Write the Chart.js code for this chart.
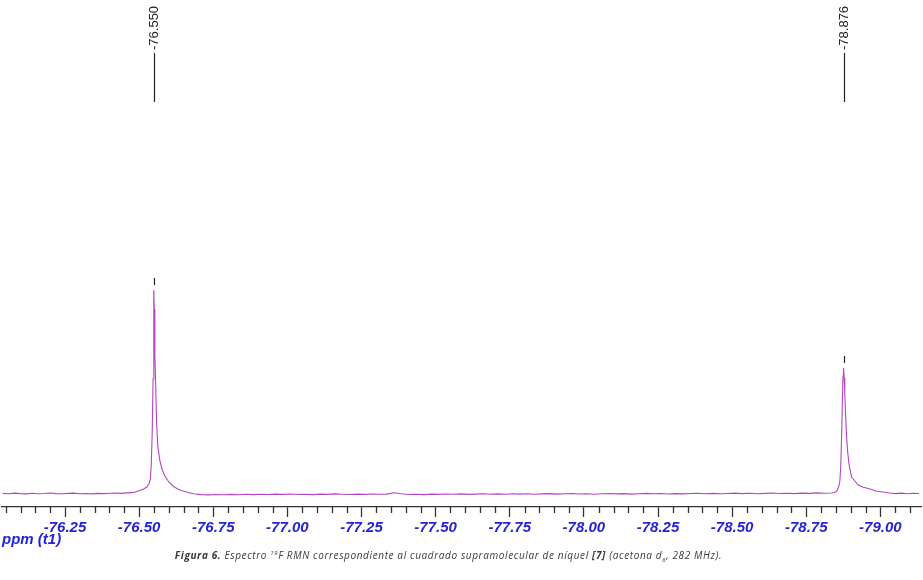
<!DOCTYPE html>
<html>
<head>
<meta charset="utf-8">
<script src="https://cdn.jsdelivr.net/npm/chart.js@4.4.0/dist/chart.umd.min.js"></script>
<style>
html,body{margin:0;padding:0;background:#fff;}
#wrap{position:relative;width:923px;height:580px;overflow:hidden;}
#c{position:absolute;left:0;top:0;}
#cap{position:absolute;left:0;width:897px;top:548px;text-align:center;font-family:"Open Sans",sans-serif;font-style:italic;font-size:10px;letter-spacing:0.62px;color:#3a3a3a;white-space:nowrap;line-height:14px;}
#cap sup,#cap sub{font-size:6px;line-height:0;}
</style>
</head>
<body>
<div id="wrap">
<canvas id="c" width="923" height="551"></canvas>
<div id="cap"><b>Figura 6.</b> Espectro <sup>19</sup>F RMN correspondiente al cuadrado supramolecular de níquel <b>[7]</b> (acetona d<sub>6</sub>, 282 MHz).</div>
</div>
<script>
// ---- data (chemical shift in ppm, intensity in arbitrary units) ----
const ppm = [
  // left baseline
  -76.04, -76.06, -76.08, -76.10, -76.12, -76.14, -76.16, -76.18, -76.20, -76.22, -76.24, -76.26,
  -76.28, -76.30, -76.32, -76.34, -76.36, -76.38, -76.40, -76.42, -76.44, -76.46, -76.48,
  // peak at -76.550
  -76.490, -76.503, -76.515, -76.526, -76.533, -76.538, -76.541, -76.544, -76.547, -76.549, -76.550, -76.551,
  -76.553, -76.556, -76.559, -76.563, -76.570, -76.578, -76.587, -76.600, -76.614, -76.630, -76.648, -76.665,
  // middle baseline
  -76.685, -76.710, -76.735, -76.760, -76.785, -76.810, -76.835, -76.860, -76.885, -76.910, -76.935, -76.960,
  -76.985, -77.010, -77.035, -77.060, -77.085, -77.110, -77.135, -77.160, -77.185, -77.210, -77.235, -77.260,
  -77.285, -77.310, -77.335, -77.360, -77.385, -77.410, -77.435, -77.460, -77.485, -77.510, -77.535, -77.560,
  -77.585, -77.610, -77.635, -77.660, -77.685, -77.710, -77.735, -77.760, -77.785, -77.810, -77.835, -77.860,
  -77.885, -77.910, -77.935, -77.960, -77.985, -78.010, -78.035, -78.060, -78.085, -78.110, -78.135, -78.160,
  -78.185, -78.210, -78.235, -78.260, -78.285, -78.310, -78.335, -78.360, -78.385, -78.410, -78.435, -78.460,
  -78.485, -78.510, -78.535, -78.560, -78.585, -78.610, -78.635, -78.660, -78.685, -78.710, -78.735, -78.760,
  -78.785, -78.810, -78.835,
  // peak at -78.876
  -78.845, -78.850, -78.855, -78.860, -78.863, -78.866, -78.869, -78.872, -78.874, -78.876, -78.878, -78.880,
  -78.883, -78.886, -78.889, -78.894, -78.903, -78.914, -78.925, -78.940, -78.965, -78.985, -79.010, -79.030,
  // right baseline
  -79.05, -79.07, -79.09, -79.11, -79.13
];
const intensity = [
  0.6, 0.2, 0.9, 0.4, 0.1, 0.7, 0.3, 0.5, 1.0, 0.4, 0.2, 0.6,
  0.9, 0.3, 0.5, 0.1, 0.6, 0.4, 0.8, 1.0, 0.6, 1.1, 1.6,
  2.2, 3.5, 5, 7, 10, 15, 30, 60, 115, 161, 204, 185,
  140, 107, 70, 48, 33, 24, 18, 12, 8, 5, 3, 1.5,
  0.3, -0.6, -0.9, -0.5, -0.8, -0.4, -0.7, -0.3, -0.6, -0.2, -0.5, -0.1,
  -0.4, 0.0, -0.5, -0.2, -0.6, -0.1, -0.4, 0.1, -0.3, -0.5, -0.1, -0.4,
  0.0, -0.3, -0.1, 1.3, 0.2, -0.5, -0.2, -0.6, -0.1, -0.4, 0.0, -0.3,
  0.1, -0.4, -0.1, 0.2, -0.3, 0.1, -0.2, 0.3, -0.1, 0.2, -0.3, 0.1,
  0.4, -0.1, 0.2, 0.5, 0.0, 0.3, -0.2, 0.2, 0.5, 0.1, 0.4, -0.1,
  0.3, 0.6, 0.2, 0.5, 0.0, 0.4, 0.1, 0.5, 0.8, 0.3, 0.6, 0.2,
  0.5, 0.9, 0.4, 0.7, 0.3, 0.6, 1.0, 0.5, 0.8, 0.4, 0.9, 0.6,
  1.1, 0.7, 1.0,
  1.5, 2.2, 4, 8, 12, 25, 55, 95, 118, 126, 116, 100,
  77, 58, 44, 30, 17, 13, 9, 7, 5, 3, 2, 1,
  0.4, 0.9, 0.3, 0.7, 0.5
];
const peakPpm = [-76.550, -78.876];
const peakLabels = ['-76.550', '-78.876'];
const tickValues = [-76.25, -76.50, -76.75, -77.00, -77.25, -77.50, -77.75, -78.00, -78.25, -78.50, -78.75, -79.00];
const tickLabels = ['-76.25', '-76.50', '-76.75', '-77.00', '-77.25', '-77.50', '-77.75', '-78.00', '-78.25', '-78.50', '-78.75', '-79.00'];
const axisTitle = 'ppm (t1)';
const minorStep = 0.05;
const xLeft = -76.0375, xRight = -79.137;

const BLUE = '#2424d6';
const AXIS = '#333333';
const FAMILY = '"Liberation Sans", Arial, sans-serif';
const axisFont = {family: FAMILY, size: 15, weight: 'bold', style: 'italic', lineHeight: 1};

const annot = {
  id: 'annot',
  afterDatasetsDraw(chart) {
    const ctx = chart.ctx, xs = chart.scales.x, ys = chart.scales.y;
    ctx.save();
    ctx.strokeStyle = '#222';
    ctx.fillStyle = '#222';
    ctx.lineWidth = 1.2;
    peakPpm.forEach((p, i) => {
      const x = Math.round(xs.getPixelForValue(p)) + 0.5;
      let m = -Infinity;
      ppm.forEach((v, j) => { if (Math.abs(v - p) < 0.01) m = Math.max(m, intensity[j]); });
      const yp = ys.getPixelForValue(m);
      ctx.beginPath();
      ctx.moveTo(x, yp - 5); ctx.lineTo(x, yp - 12);
      ctx.stroke();
      const top = chart.chartArea.top;
      ctx.beginPath();
      ctx.moveTo(x, top + 53); ctx.lineTo(x, top + 102);
      ctx.stroke();
      ctx.save();
      ctx.translate(x - 0.5, top + 50);
      ctx.rotate(-Math.PI / 2);
      ctx.font = '13px ' + FAMILY;
      ctx.textAlign = 'left';
      ctx.textBaseline = 'middle';
      ctx.fillText(peakLabels[i], 0, 0);
      ctx.restore();
    });
    ctx.restore();
  },
  afterDraw(chart) {
    const ctx = chart.ctx, xs = chart.scales.x;
    ctx.save();
    // minor tick marks on the ppm axis
    ctx.strokeStyle = AXIS;
    ctx.lineWidth = 1.3;
    const n0 = Math.ceil(-xLeft / minorStep), n1 = Math.floor(-xRight / minorStep);
    for (let n = n0; n <= n1; n++) {
      if (n % 5 === 0) continue;
      const v = -n * minorStep;
      const x = Math.round(xs.getPixelForValue(v)) + 0.5;
      ctx.beginPath();
      ctx.moveTo(x, xs.top);
      ctx.lineTo(x, xs.top + 6);
      ctx.stroke();
    }
    // axis title, left aligned under the tick labels
    ctx.fillStyle = BLUE;
    ctx.font = 'italic bold 15px ' + FAMILY;
    ctx.textAlign = 'left';
    ctx.textBaseline = 'middle';
    ctx.fillText(axisTitle, 2, xs.top + 33);
    ctx.restore();
  }
};

new Chart(document.getElementById('c'), {
  type: 'line',
  data: {
    datasets: [{
      data: ppm.map((x, i) => ({x: x, y: intensity[i]})),
      borderColor: '#b444c2',
      borderWidth: 1.1,
      pointRadius: 0,
      tension: 0,
      fill: false
    }]
  },
  options: {
    responsive: false,
    animation: false,
    devicePixelRatio: 1,
    layout: {padding: {left: 2, right: 2, top: 0, bottom: 13}},
    plugins: {legend: {display: false}, tooltip: {enabled: false}},
    scales: {
      x: {
        type: 'linear',
        reverse: true,
        min: xRight,
        max: xLeft,
        afterBuildTicks: (s) => { s.ticks = tickValues.map(v => ({value: v})); },
        ticks: {
          callback: (v, i) => tickLabels[i],
          color: BLUE,
          font: axisFont,
          padding: 3,
          maxRotation: 0,
          autoSkip: false
        },
        grid: {drawOnChartArea: false, drawTicks: true, tickLength: 10, tickColor: AXIS, tickWidth: 1.3},
        border: {display: true, color: AXIS, width: 1.3}
      },
      y: {display: false, min: -13, max: 494}
    }
  },
  plugins: [annot]
});
</script>
</body>
</html>
